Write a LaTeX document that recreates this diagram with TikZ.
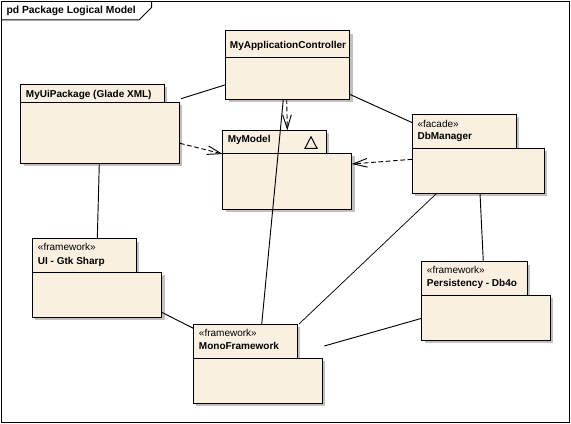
\documentclass[tikz,border=0pt]{standalone}
\usepackage{fontspec}
\setmainfont{Liberation Sans}
\usetikzlibrary{arrows.meta,fit,shadows}
\definecolor{pkgfill}{RGB}{250,240,226}
\definecolor{shadowc}{RGB}{192,192,192}
\tikzset{
  pkg/.style={draw=black, line width=0.75pt, fill=pkgfill, inner sep=0pt, outer sep=0pt,
    drop shadow={shadow xshift=2.25pt, shadow yshift=-2.25pt, fill=shadowc, opacity=1}},
  framebox/.style={draw=black, line width=0.75pt, inner sep=0pt, outer sep=0pt},
  lbl/.style={anchor=base west, inner sep=0pt, font=\bfseries\fontsize{7.5pt}{9pt}\selectfont},
  stereo/.style={anchor=base west, inner sep=0pt, font=\fontsize{7.5pt}{9pt}\selectfont},
  conn/.style={draw=black, line width=0.7pt},
  dep/.style={draw=black, line width=0.7pt, dash pattern=on 3.5pt off 2pt,
    -{Straight Barb[length=10.5pt, width=6.5pt, line width=0.7pt]}}
}
\begin{document}
\begin{tikzpicture}[x=0.75pt, y=-0.75pt]
\useasboundingbox (0,0) rectangle (571,424);
\fill[white] (0,0) rectangle (571,424);
% frame
\node[framebox, fit={(1.7,1.7)(569,422.5)}] (frame) {};
\draw[line width=0.75pt] (1.7,20) -- (139,20) -- (151.7,7.3) -- (151.7,1.7);
\node[lbl, font=\bfseries\fontsize{7.75pt}{9pt}\selectfont] (title) at (6.3,14) {pd Package Logical Model};

% MyApplicationController
\node[pkg, fit={(225.7,30.7)(349.7,99.3)}] (app) {};
\draw[line width=0.75pt] (225.7,57.3) -- (349.7,57.3);
\node[lbl] (appL) at (229.7,49) {MyApplicationController};

% MyUiPackage
\node[pkg, fit={(20.7,84.3)(164.3,102.3)}] (uiT) {};
\node[pkg, fit={(20.7,102.3)(179.3,163.3)}] (uiB) {};
\node[lbl] (uiL) at (25.7,97.3) {MyUiPackage (Glade XML)};

% MyModel
\node[pkg, fit={(222.7,130.3)(326.3,153.3)}] (moT) {};
\node[pkg, fit={(222.7,153.3)(351.7,209)}] (moB) {};
\node[lbl] (moL) at (227.5,142.3) {MyModel};
\draw[line width=0.75pt] (311,136.7) -- (305,148.3) -- (317,148.3) -- cycle;

% DbManager
\node[pkg, fit={(412.3,114.3)(516.3,148.3)}] (dbT) {};
\node[pkg, fit={(412.3,148.3)(544.3,193.3)}] (dbB) {};
\node[stereo] (dbS) at (417.3,127.7) {«facade»};
\node[lbl] (dbL) at (417.3,139.7) {DbManager};

% UI - Gtk Sharp
\node[pkg, fit={(32.3,238.7)(136.3,272.3)}] (gtkT) {};
\node[pkg, fit={(32.3,272.3)(161.7,317.3)}] (gtkB) {};
\node[stereo] (gtkS) at (37.7,250.7) {«framework»};
\node[lbl] (gtkL) at (37.7,264) {UI - Gtk Sharp};

% MonoFramework
\node[pkg, fit={(193.3,324.3)(297.3,358)}] (monoT) {};
\node[pkg, fit={(193.3,358)(322.3,403.3)}] (monoB) {};
\node[stereo] (monoS) at (198.7,336.7) {«framework»};
\node[lbl] (monoL) at (198.7,349.7) {MonoFramework};

% Persistency
\node[pkg, fit={(421.7,261.7)(527.3,295.3)}] (perT) {};
\node[pkg, fit={(421.7,295.3)(550,340)}] (perB) {};
\node[stereo] (perS) at (426.7,273.7) {«framework»};
\node[lbl] (perL) at (426.7,286.3) {Persistency - Db4o};

% connector end points
\coordinate (uiA) at (181,98.7);
\coordinate (apA) at (225.7,84.7);
\coordinate (uiM) at (180,143.3);
\coordinate (moW) at (222.7,154);
\coordinate (apM) at (286.7,99.3);
\coordinate (moN) at (287.3,130.3);
\coordinate (apMono) at (283.3,99.3);
\coordinate (monoN) at (261.7,324.3);
\coordinate (apD) at (349.7,94.3);
\coordinate (dbA) at (412.3,122.7);
\coordinate (dbM) at (412.3,159.3);
\coordinate (moE) at (351.7,164);
\coordinate (dbMono) at (436.7,193.3);
\coordinate (monoNE) at (299,324);
\coordinate (dbP) at (480,193.3);
\coordinate (perN) at (483.3,261.7);
\coordinate (uiG) at (99.3,163.3);
\coordinate (gtkN) at (97.3,238.7);
\coordinate (gtkM) at (161.7,312.3);
\coordinate (monoW) at (193.3,328.3);
\coordinate (perW) at (421.7,318.3);
\coordinate (monoE) at (324.3,346);

% connectors
\draw[conn] (uiA) -- (apA);
\draw[dep] (uiM) -- (moW);
\draw[dep] (apM) -- (moN);
\draw[conn] (apMono) -- (monoN);
\draw[conn] (apD) -- (dbA);
\draw[dep] (dbM) -- (moE);
\draw[conn, line width=0.55pt] (dbMono) -- (monoNE);
\draw[conn] (dbP) -- (perN);
\draw[conn] (uiG) -- (gtkN);
\draw[conn] (gtkM) -- (monoW);
\draw[conn] (perW) -- (monoE);
\end{tikzpicture}
\end{document}
